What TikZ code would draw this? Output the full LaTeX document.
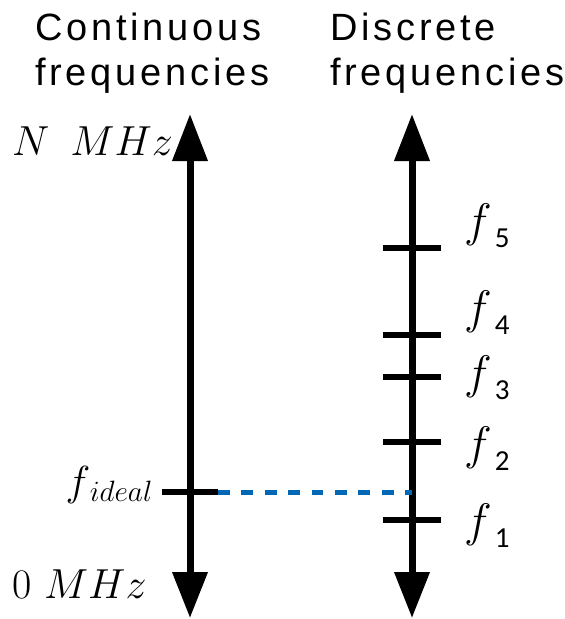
\documentclass[tikz,border=0pt]{standalone}
\usepackage{fix-cm}
\usepackage{fontspec}
\usetikzlibrary{arrows.meta}
\newfontfamily\titlefont[LetterSpace=10]{Liberation Sans}
\newfontfamily\subdigits{Carlito}
\definecolor{guideblue}{RGB}{0,104,180}
\newcommand{\fsubl}[1]{$f$\kern3pt\raisebox{-11pt}{\fontsize{29pt}{29pt}\subdigits #1}}
\begin{document}
\begin{tikzpicture}[x=1pt,y=-1pt,
  axis/.style={line width=7pt,{Triangle[length=46pt,width=34pt]}-{Triangle[length=47pt,width=34pt]}},
  tickmark/.style={line width=6pt},
  guide/.style={guideblue,line width=5pt,dash pattern=on 11.7pt off 11.7pt},
  title/.style={inner sep=0pt,align=left,font=\titlefont\fontsize{38pt}{45pt}\selectfont},
  mathlab/.style={inner sep=0pt,font=\fontsize{42pt}{42pt}\selectfont},
  flab/.style={inner sep=0pt,anchor=base west,font=\fontsize{47pt}{47pt}\selectfont}]
\useasboundingbox[fill=white] (0,0) rectangle (565,619);
% titles
\node[title,anchor=base west] (tc) at (35,85) {Continuous\\frequencies};
\node[title,anchor=base west] (td) at (330,85) {Discrete\\frequencies};
% axes
\coordinate (Ltop) at (190,114);
\coordinate (Lbot) at (190,618);
\coordinate (Rtop) at (412,114);
\coordinate (Rbot) at (412,618);
\draw[axis] (Lbot) -- (Ltop);
\draw[axis] (Rbot) -- (Rtop);
% axis labels
\node[mathlab,anchor=base west] (nmhz) at (12,155) {$N$\hspace{0.5em}$MHz$};
\node[mathlab,anchor=base west] (zmhz) at (12,598) {$0$\hspace{0.3em}$MHz$};
% ideal frequency
\coordinate (Ia) at (162,492);
\coordinate (Ib) at (218,492);
\coordinate (Ic) at (412,492);
\draw[tickmark] (Ia) -- (Ib);
\draw[guide] (Ib) -- (Ic);
\node[mathlab,anchor=base east] (fideal) at (153,495) {$f_{\kern4pt ideal}$};
% discrete ticks
\foreach \n/\y/\b in {5/248/236, 4/335/323, 3/377/388, 2/442/459, 1/520/536}{
  \coordinate (t\n a) at (383,\y);
  \coordinate (t\n b) at (441,\y);
  \draw[tickmark] (t\n a) -- (t\n b);
  \node[flab] (f\n) at (464,\b) {\fsubl{\n}};
}
\end{tikzpicture}
\end{document}
